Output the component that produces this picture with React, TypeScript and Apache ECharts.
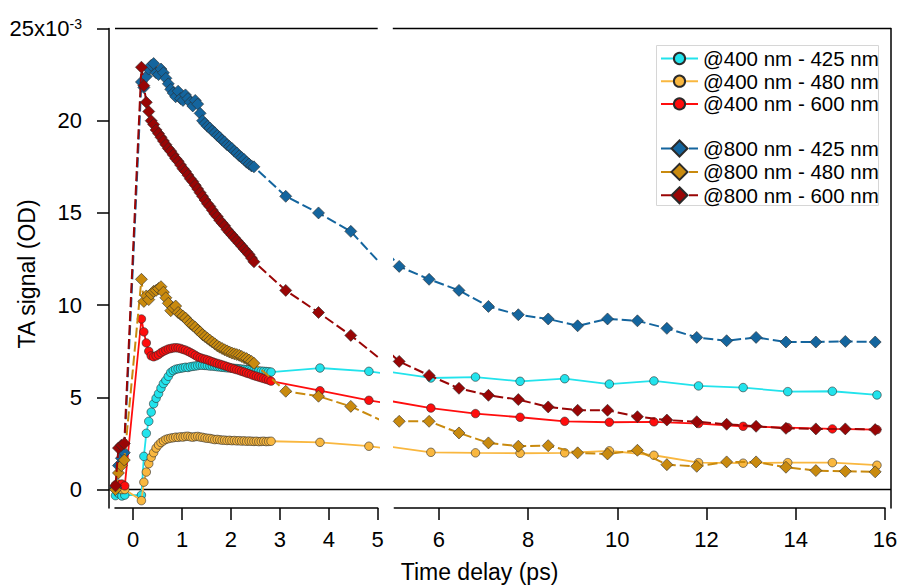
import React, { useEffect, useRef } from "react";
import * as echarts from "echarts";

// ---------------- DATA ----------------
// Time axis (ps) for the 400 nm pump measurements
const T400 = [
  -0.36, -0.3, -0.23, -0.17,
  0.17, 0.22, 0.27, 0.32, 0.37, 0.42, 0.47, 0.52, 0.57, 0.62,
  0.67, 0.72, 0.77, 0.82, 0.87, 0.92, 0.97, 1.02, 1.07, 1.12,
  1.17, 1.22, 1.27, 1.32, 1.37, 1.42, 1.47, 1.52, 1.57, 1.62,
  1.67, 1.72, 1.77, 1.82, 1.87, 1.92, 1.97, 2.02, 2.07, 2.12,
  2.17, 2.22, 2.27, 2.32, 2.37, 2.42, 2.47, 2.52, 2.57, 2.62,
  2.67, 2.72, 2.77, 2.82,
  3.82, 4.82, 5.82, 6.82, 7.82, 8.82, 9.82, 10.82, 11.82, 12.82, 13.82, 14.82, 15.82,
];
// @400 nm - 425 nm (x10^-3 OD)
const P400_425 = [
  -0.33, -0.2, -0.35, -0.3,
  -0.3, 1.8, 3.05, 3.7, 4.2, 4.65, 4.95, 5.2, 5.5, 5.75,
  5.92, 6.14, 6.35, 6.45, 6.52, 6.55, 6.58, 6.6, 6.63, 6.62,
  6.66, 6.68, 6.7, 6.72, 6.75, 6.74, 6.73, 6.72, 6.7, 6.7,
  6.68, 6.66, 6.65, 6.63, 6.62, 6.6, 6.6, 6.58, 6.57, 6.56,
  6.55, 6.53, 6.52, 6.5, 6.5, 6.48, 6.46, 6.45, 6.43, 6.42,
  6.41, 6.4, 6.39, 6.37,
  6.59, 6.41, 6.05, 6.1, 5.87, 6.01, 5.72, 5.89, 5.62, 5.53, 5.31, 5.33, 5.13,
];
// @400 nm - 480 nm
const P400_480 = [
  0.05, 0.1, 0.0, 0.0,
  -0.6, 0.4, 0.95, 1.4, 1.75, 2.0, 2.25, 2.42, 2.55, 2.64,
  2.72, 2.76, 2.79, 2.81, 2.84, 2.83, 2.86, 2.85, 2.88, 2.89,
  2.86, 2.84, 2.87, 2.88, 2.85, 2.83, 2.8, 2.78, 2.77, 2.74,
  2.71, 2.72, 2.7, 2.68, 2.68, 2.66, 2.67, 2.65, 2.66, 2.64,
  2.65, 2.63, 2.64, 2.62, 2.63, 2.62, 2.61, 2.62, 2.6, 2.61,
  2.62, 2.6, 2.61, 2.62,
  2.56, 2.35, 2.02, 1.99, 1.97, 1.99, 2.1, 1.86, 1.46, 1.43, 1.46, 1.46, 1.32,
];
// @400 nm - 600 nm
const P400_600 = [
  0.25, 0.3, 0.3, 0.2,
  9.25, 8.55, 7.95, 7.5, 7.25, 7.2, 7.25, 7.32, 7.42, 7.5,
  7.56, 7.62, 7.65, 7.68, 7.69, 7.68, 7.65, 7.6, 7.56, 7.5,
  7.43, 7.36, 7.28, 7.2, 7.15, 7.1, 7.07, 7.03, 6.98, 6.93,
  6.88, 6.84, 6.8, 6.76, 6.72, 6.67, 6.62, 6.58, 6.54, 6.5,
  6.46, 6.41, 6.37, 6.32, 6.28, 6.23, 6.18, 6.14, 6.1, 6.06,
  6.02, 5.98, 5.94, 5.88,
  5.36, 4.84, 4.42, 4.12, 3.92, 3.7, 3.65, 3.67, 3.58, 3.43, 3.36, 3.29, 3.25,
];

// Time axis (ps) for the 800 nm pump measurements
const T800 = [
  -0.36, -0.3, -0.24, -0.18,
  0.17, 0.22, 0.27, 0.32, 0.37, 0.42, 0.47, 0.52, 0.57, 0.62,
  0.67, 0.72, 0.77, 0.82, 0.87, 0.92, 0.97, 1.02, 1.07, 1.12,
  1.17, 1.22, 1.27, 1.32, 1.37, 1.42, 1.47, 1.52, 1.57, 1.62,
  1.67, 1.72, 1.77, 1.82, 1.87, 1.92, 1.97, 2.02, 2.07, 2.12,
  2.17, 2.22, 2.27, 2.32, 2.37, 2.42, 2.47,
  3.12, 3.79, 4.45, 5.11, 5.78, 6.45, 7.11, 7.78, 8.45, 9.11,
  9.78, 10.45, 11.11, 11.78, 12.45, 13.11, 13.78, 14.45, 15.11, 15.78,
];
// @800 nm - 425 nm
const P800_425 = [
  0.1, 1.3, 1.7, 2.0,
  22.1, 21.8, 22.4, 22.8, 23.0, 23.1, 22.6, 22.5, 22.8, 22.6,
  22.3, 22.0, 21.7, 21.5, 21.3, 21.6, 21.2, 21.1, 21.4, 21.2,
  21.0, 20.8, 21.1, 20.9, 20.4, 20.0, 19.85, 19.7, 19.6, 19.45,
  19.35, 19.2, 19.1, 18.95, 18.85, 18.7, 18.6, 18.5, 18.35, 18.25,
  18.1, 18.0, 17.9, 17.75, 17.65, 17.55, 17.5,
  15.9, 15.0, 14.0, 12.1, 11.4, 10.8, 9.93, 9.48, 9.25, 8.88,
  9.25, 9.15, 8.74, 8.25, 8.07, 8.25, 8.0, 8.0, 8.03, 8.0,
];
// @800 nm - 480 nm
const P800_480 = [
  0.0, 0.9, 1.3, 1.6,
  11.4, 10.2, 10.5, 10.3, 10.6, 10.75, 10.8, 10.9, 11.0, 10.7,
  10.4, 10.1, 9.7, 9.85, 9.95, 9.6, 9.5, 9.4, 9.3, 9.15,
  9.0, 8.9, 8.8, 8.65, 8.55, 8.4, 8.3, 8.2, 8.1, 8.0,
  7.9, 7.8, 7.72, 7.65, 7.58, 7.52, 7.46, 7.4, 7.36, 7.32,
  7.28, 7.22, 7.15, 7.1, 7.02, 6.95, 6.85,
  5.33, 5.06, 4.51, 3.7, 3.7, 3.07, 2.53, 2.35, 2.38, 1.99,
  1.93, 2.13, 1.35, 1.26, 1.5, 1.5, 1.21, 1.03, 0.99, 0.96,
];
// @800 nm - 600 nm
const P800_600 = [
  0.2, 2.25, 2.4, 2.5,
  22.9, 21.9, 21.0, 20.5, 20.0, 19.8, 19.5, 19.3, 19.1, 18.9,
  18.7, 18.5, 18.35, 18.15, 17.95, 17.8, 17.6, 17.4, 17.25, 17.05,
  16.85, 16.7, 16.5, 16.3, 16.1, 15.9, 15.7, 15.5, 15.35, 15.15,
  14.95, 14.8, 14.6, 14.45, 14.3, 14.1, 13.95, 13.8, 13.65, 13.5,
  13.35, 13.2, 13.05, 12.9, 12.75, 12.55, 12.35,
  10.8, 9.6, 8.36, 6.95, 6.19, 5.49, 5.11, 4.88, 4.48, 4.3,
  4.3, 3.95, 3.77, 3.68, 3.54, 3.43, 3.32, 3.29, 3.29, 3.25,
];

const SERIES_NAMES = [
  "@400 nm - 425 nm",
  "@400 nm - 480 nm",
  "@400 nm - 600 nm",
  "@800 nm - 425 nm",
  "@800 nm - 480 nm",
  "@800 nm - 600 nm",
];

const X_TICKS_LEFT = [0, 1, 2, 3, 4, 5];
const X_TICKS_RIGHT = [6, 8, 10, 12, 14, 16];
const Y_TICKS = [0, 5, 10, 15, 20, 25];

// ---------------- STYLE / LAYOUT ----------------
const FONT = "'Liberation Sans', Arial, Helvetica, sans-serif";
const AXIS_BREAK = 5;
const GRID_TOP = 28.5;
const GRID_H = 479.5;
const L_LEFT = 115;
const L_W = 262.7;
const R_LEFT = 394.3;
const R_W = 490.7;
const AX = { color: "#000", width: 1.5 };

const SPECS = [
  { x: T400, y: P400_425, color: "#22E3EC", symbol: "circle", dashed: false },
  { x: T400, y: P400_480, color: "#F9B73F", symbol: "circle", dashed: false },
  { x: T400, y: P400_600, color: "#FF0D0D", symbol: "circle", dashed: false },
  { x: T800, y: P800_425, color: "#14659E", symbol: "diamond", dashed: true },
  { x: T800, y: P800_480, color: "#C98A0E", symbol: "diamond", dashed: true },
  { x: T800, y: P800_600, color: "#990505", symbol: "diamond", dashed: true },
];

function leftPart(xs: number[], ys: number[]) {
  const out: number[][] = [];
  for (let i = 0; i < xs.length; i++) {
    out.push([xs[i], ys[i]]);
    if (xs[i] > AXIS_BREAK) break;
  }
  return out;
}
function rightPart(xs: number[], ys: number[]) {
  const out: number[][] = [];
  for (let i = 0; i < xs.length; i++) {
    const next = i + 1 < xs.length ? xs[i + 1] : -Infinity;
    if (xs[i] >= AXIS_BREAK || next >= AXIS_BREAK) out.push([xs[i], ys[i]]);
  }
  return out;
}

function buildSeries() {
  const out: any[] = [];
  [0, 1].forEach((g) => {
    SPECS.forEach((s, k) => {
      out.push({
        type: "line",
        name: SERIES_NAMES[k],
        xAxisIndex: g,
        yAxisIndex: g,
        data: g === 0 ? leftPart(s.x, s.y) : rightPart(s.x, s.y),
        symbol: s.symbol,
        symbolSize: s.symbol === "circle" ? 8.5 : 12,
        showSymbol: true,
        showAllSymbol: true,
        clip: true,
        silent: true,
        z: 2 + k * 0.1,
        itemStyle: { color: s.color, borderColor: "#2a2a2a", borderWidth: 0.6 },
        lineStyle: {
          color: s.color,
          width: s.dashed ? 2 : 1.8,
          type: s.dashed ? [10, 4] : "solid",
        },
        emphasis: { disabled: true },
      });
    });
  });
  return out;
}

export default function App() {
  const ref = useRef<HTMLDivElement>(null);
  useEffect(() => {
    if (!ref.current) return;
    const chart = echarts.init(ref.current, null, { renderer: "svg" });
    const legendText = { fontSize: 20.5, color: "#000", fontFamily: FONT };
    const option: any = {
      animation: false,
      backgroundColor: "#fff",
      textStyle: { fontFamily: FONT },
      grid: [
        { left: L_LEFT, top: GRID_TOP, width: L_W, height: GRID_H, containLabel: false },
        { left: R_LEFT, top: GRID_TOP, width: R_W, height: GRID_H, containLabel: false },
      ],
      xAxis: [
        {
          type: "value",
          gridIndex: 0,
          min: -0.37,
          max: AXIS_BREAK,
          axisLine: { show: true, onZero: false, lineStyle: AX },
          axisTick: { show: true, customValues: X_TICKS_LEFT, length: 12, lineStyle: AX },
          axisLabel: {
            customValues: X_TICKS_LEFT,
            margin: 20,
            fontSize: 22,
            color: "#000",
            fontFamily: FONT,
          },
          splitLine: { show: false },
        },
        {
          type: "value",
          gridIndex: 1,
          min: AXIS_BREAK,
          max: 16,
          axisLine: { show: true, onZero: false, lineStyle: AX },
          axisTick: { show: true, customValues: X_TICKS_RIGHT, length: 12, lineStyle: AX },
          axisLabel: {
            customValues: X_TICKS_RIGHT,
            margin: 20,
            fontSize: 22,
            color: "#000",
            fontFamily: FONT,
          },
          splitLine: { show: false },
        },
      ],
      yAxis: [
        {
          type: "value",
          gridIndex: 0,
          min: -1,
          max: 25,
          position: "left",
          offset: 6,
          axisLine: { show: true, onZero: false, lineStyle: AX },
          axisTick: { show: true, customValues: Y_TICKS, length: 12, lineStyle: AX },
          axisLabel: {
            customValues: Y_TICKS,
            margin: 27,
            fontSize: 22,
            color: "#000",
            fontFamily: FONT,
            formatter: (v: number) => (v === 25 ? "25x10{sup|-3}" : String(v)),
            rich: {
              sup: { fontSize: 14, color: "#000", fontFamily: FONT, verticalAlign: "top", padding: [0, 0, 10, 0] },
            },
          },
          splitLine: { show: false },
        },
        {
          type: "value",
          gridIndex: 1,
          min: -1,
          max: 25,
          position: "right",
          offset: 6,
          axisLine: { show: true, onZero: false, lineStyle: AX },
          axisTick: { show: false },
          axisLabel: { show: false },
          splitLine: { show: false },
        },
      ],
      legend: [
        {
          data: SERIES_NAMES.slice(0, 3),
          orient: "vertical",
          left: 660,
          top: 48,
          padding: 0,
          itemWidth: 37,
          itemHeight: 14,
          itemGap: 1.7,
          selectedMode: false,
          textStyle: legendText,
        },
        {
          data: SERIES_NAMES.slice(3),
          orient: "vertical",
          left: 660,
          top: 138,
          padding: 0,
          itemWidth: 37,
          itemHeight: 20,
          itemGap: 2.4,
          selectedMode: false,
          textStyle: legendText,
        },
      ],
      series: buildSeries(),
    };
    chart.setOption(option);

    const y0 = chart.convertToPixel({ yAxisIndex: 0 }, 0) as number;
    const yTop = chart.convertToPixel({ yAxisIndex: 0 }, 25) as number;
    const xL0 = chart.convertToPixel({ xAxisIndex: 0 }, -0.37) as number;
    const xL1 = chart.convertToPixel({ xAxisIndex: 0 }, AXIS_BREAK) as number;
    const xR0 = chart.convertToPixel({ xAxisIndex: 1 }, AXIS_BREAK) as number;
    const xR1 = chart.convertToPixel({ xAxisIndex: 1 }, 16) as number;
    const frameX = xR1 + 6;
    const lineStyle = { stroke: "#000", lineWidth: 1.5, fill: null };
    chart.setOption({
      graphic: [
        { type: "line", z: 1, silent: true, shape: { x1: L_LEFT - 6, y1: y0, x2: frameX, y2: y0 }, style: lineStyle },
        { type: "line", z: 1, silent: true, shape: { x1: xL0, y1: yTop, x2: xL1, y2: yTop }, style: lineStyle },
        { type: "line", z: 1, silent: true, shape: { x1: xR0 - 1.5, y1: yTop, x2: frameX, y2: yTop }, style: lineStyle },
        {
          type: "rect",
          z: 0,
          silent: true,
          shape: { x: 656.5, y: 45.5, width: 222, height: 160 },
          style: { fill: "#fff", stroke: "#d6d6d6", lineWidth: 1 },
        },
        {
          type: "text",
          silent: true,
          x: 27,
          y: 274,
          rotation: Math.PI / 2,
          style: {
            text: "TA signal (OD)",
            fontSize: 23,
            fontFamily: FONT,
            fill: "#000",
            align: "center",
            verticalAlign: "middle",
            textAlign: "center",
            textVerticalAlign: "middle",
          },
        },
        {
          type: "text",
          silent: true,
          x: 479.5,
          y: 572,
          style: {
            text: "Time delay (ps)",
            fontSize: 23,
            fontFamily: FONT,
            fill: "#000",
            align: "center",
            verticalAlign: "middle",
            textAlign: "center",
            textVerticalAlign: "middle",
          },
        },
      ],
    });

    return () => chart.dispose();
  }, []);
  return (
    <div
      ref={ref}
      style={{ position: "fixed", left: 0, top: 0, width: 906, height: 588, background: "#fff" }}
    />
  );
}
